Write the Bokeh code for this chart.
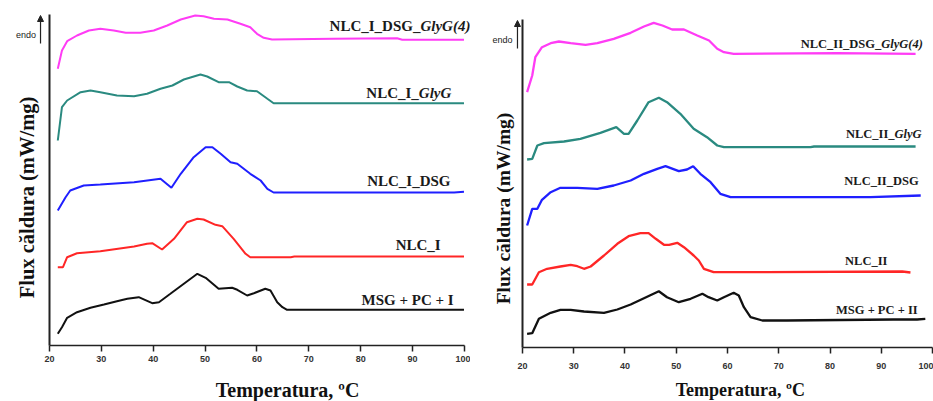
import math
from bokeh.plotting import figure
from bokeh.layouts import row
from bokeh.models import Label, Arrow, NormalHead, FixedTicker
from bokeh.embed import file_html
from bokeh.resources import INLINE

# ---------------- data (temperature in °C, heat flow in arbitrary offset units) ----------------
# Left panel (series I)
L_mag_T = [21.6, 22.4, 23.4, 25.3, 27.6, 29.8, 32.4, 34.7, 37.5, 40.1, 42.7, 45.3, 48.1, 49.7, 51.7, 54.3, 56.8, 58.7, 60.0, 61.3, 62.9, 74.7, 87.0, 88.0, 99.9]
L_mag_Y = [276.7, 295, 304.3, 310, 315, 316.7, 315, 312.7, 312.7, 315, 320, 326, 330, 329.3, 326.7, 326, 321.7, 318.3, 311.7, 307.7, 306, 306.7, 307.3, 305.7, 305.7]
L_teal_T = [21.6, 22.4, 23.4, 26.0, 27.9, 29.8, 33.0, 36.3, 38.8, 41.4, 43.7, 45.9, 49.1, 50.4, 52.6, 54.6, 56.2, 58.1, 60.0, 62.0, 63.2, 99.9]
L_teal_Y = [205, 238.3, 245, 253.3, 255, 253.3, 250, 249.3, 251.7, 256.7, 260, 266, 271, 269, 263.3, 263.3, 259, 255, 254.3, 246.7, 242.3, 242.3]
L_blue_T = [21.6, 23.1, 24.0, 26.6, 29.8, 36.3, 41.4, 43.5, 45.3, 47.8, 50.1, 51.4, 53.0, 54.9, 56.2, 58.7, 60.7, 62.0, 63.2, 98.0, 99.9]
L_blue_Y = [135, 148.3, 155, 160, 161, 163.3, 166.7, 157.7, 171.7, 188.3, 198.3, 198.3, 191.7, 183.3, 181.7, 171.7, 165, 156.7, 153, 153, 153.7]
L_red_T = [21.6, 22.6, 23.4, 25.3, 29.8, 36.3, 38.8, 39.8, 41.7, 44.0, 46.5, 48.5, 49.7, 52.0, 53.3, 55.5, 57.8, 58.7, 66.5, 67.2, 99.9]
L_red_Y = [78.3, 78.3, 88.3, 92.3, 94.3, 99, 101.7, 102.3, 96, 106.7, 123.3, 126.7, 126, 120.7, 119.3, 106.7, 91.7, 88.3, 88.3, 89, 89]
L_blk_T = [21.6, 22.4, 23.4, 25.3, 27.9, 30.5, 33.0, 35.0, 37.2, 39.8, 41.1, 43.3, 45.9, 48.5, 50.1, 52.6, 55.2, 56.2, 58.1, 59.4, 61.6, 62.6, 63.9, 64.9, 65.8, 99.9]
L_blk_Y = [11.7, 18.3, 27.7, 33.3, 37.7, 41, 44.3, 46.7, 48.3, 42.3, 43.3, 51.7, 61.7, 71.7, 67.7, 56.7, 57.7, 55.7, 50, 52.3, 56.7, 55, 43.3, 38.3, 35.7, 35.7]

# Right panel (series II)
R_mag_T = [20.9, 21.9, 22.5, 23.8, 25.5, 27.1, 29.4, 32.3, 34.6, 37.8, 41.1, 43.7, 45.6, 47.3, 49.2, 51.5, 54.1, 56.4, 58.0, 59.3, 61.2, 81.4, 96.7]
R_mag_Y = [255.3, 272, 290.3, 300.3, 304.3, 306, 304.3, 302.7, 304.3, 308.7, 314.7, 321, 324.7, 322, 318, 318, 312, 307, 298.7, 295.3, 293.7, 294.3, 293.7]
R_teal_T = [20.9, 21.9, 22.9, 24.2, 28.1, 31.3, 35.2, 38.3, 39.8, 40.7, 42.4, 44.6, 46.6, 48.2, 50.8, 53.4, 56.0, 58.0, 59.3, 76.2, 76.9, 96.7]
R_teal_Y = [188, 188.7, 202, 204.3, 206, 208.7, 214.7, 220.3, 213.7, 213.7, 227, 245.3, 249.7, 245.3, 233.7, 218.7, 210.3, 202, 200.3, 200.3, 201, 201]
R_blue_T = [20.9, 21.9, 22.9, 23.8, 25.5, 27.4, 30.7, 34.6, 37.8, 41.1, 43.7, 46.3, 47.9, 50.5, 52.1, 53.3, 54.7, 56.7, 58.6, 60.6, 87.9, 97.7]
R_blue_Y = [122, 138.7, 138.7, 147.7, 155.3, 159.7, 159.7, 158.7, 162, 167, 173.7, 178.7, 181.3, 176.3, 178, 181.3, 173.7, 165.3, 153.7, 150.3, 150.3, 152]
R_red_T = [20.9, 21.9, 23.2, 24.8, 27.4, 29.4, 30.7, 32.0, 33.3, 35.9, 38.5, 40.7, 43.0, 44.6, 46.0, 47.6, 48.6, 50.2, 51.5, 53.4, 54.4, 55.4, 57.3, 67.8, 94.1, 95.7]
R_red_Y = [63, 63, 75.3, 78.7, 81, 82.7, 81.3, 78.7, 81, 92, 103.7, 111.3, 114.3, 114.3, 108.7, 102.7, 102.7, 104.7, 100.3, 92, 87, 78.7, 75.3, 75.3, 76, 75]
R_blk_T = [20.9, 21.9, 23.2, 25.5, 27.4, 29.4, 32.0, 35.9, 38.5, 41.1, 43.7, 46.6, 48.2, 50.5, 52.8, 55.1, 56.3, 58.0, 59.3, 61.2, 62.2, 63.2, 64.5, 66.8, 71.6, 92.4, 97.0, 98.6]
R_blk_Y = [13.7, 14.3, 28.7, 34.7, 37.7, 37.7, 36, 34.7, 38, 43, 49.3, 56.3, 50.3, 45.3, 48.7, 53.7, 50.3, 47, 50.3, 54.7, 52, 40.3, 30.3, 27, 27, 28, 28, 28.7]

x_ticks = [20, 30, 40, 50, 60, 70, 80, 90, 100]
x_title = "Temperatura, ºC"
y_title = "Flux căldura (mW/mg)"

MAG = "#ff3cf5"
TEAL = "#2a8a80"
BLUE = "#1f1fff"
RED = "#ff2626"
BLK = "#111111"

SERIF = "Liberation Serif"
SANS = "Liberation Sans"


def make_panel(width, height, xr, yr, ytop, tick_stand):
    p = figure(width=width, height=height, x_range=xr, y_range=yr,
               output_backend="svg", toolbar_location=None, min_border=0)
    p.outline_line_color = None
    p.grid.visible = False
    # x axis, drawn at heat-flow 0 and limited to 20..100 °C
    xa = p.xaxis[0]
    xa.fixed_location = 0
    xa.bounds = (20, 100)
    xa.ticker = FixedTicker(ticks=x_ticks)
    xa.minor_tick_line_color = None
    xa.major_tick_in = 0
    xa.major_tick_out = 6
    xa.major_tick_line_color = "#222222"
    xa.major_tick_line_width = 1.5
    xa.axis_line_color = "#222222"
    xa.axis_line_width = 1.5
    xa.major_label_text_font = SANS
    xa.major_label_text_font_style = "bold"
    xa.major_label_text_font_size = "9px"
    xa.major_label_text_color = "#333333"
    xa.major_label_standoff = tick_stand
    # y axis at 20 °C, no ticks
    ya = p.yaxis[0]
    ya.fixed_location = 20
    ya.bounds = (0, ytop)
    ya.ticker = FixedTicker(ticks=[])
    ya.minor_tick_line_color = None
    ya.major_tick_in = 0
    ya.major_tick_out = 0
    ya.major_label_text_font_size = "0px"
    ya.axis_line_color = "#222222"
    ya.axis_line_width = 2
    return p


def lbl(p, x, y, text, size, align="right", italic=False):
    p.add_layout(Label(x=x, y=y, text=text, text_font=SERIF,
                       text_font_style="bold italic" if italic else "bold",
                       text_font_size=size, text_align=align,
                       text_baseline="middle", text_color="#1a1a1a"))


def titles(p, xt, yt, xsize, ysize):
    p.add_layout(Label(x=xt[0], y=xt[1], text=x_title, text_font=SERIF, text_font_style="bold",
                       text_font_size=xsize, text_align="center", text_baseline="middle",
                       text_color="#111111"))
    p.add_layout(Label(x=yt[0], y=yt[1], text=y_title, text_font=SERIF, text_font_style="bold",
                       text_font_size=ysize, text_align="center", text_baseline="middle",
                       angle=math.pi / 2, text_color="#111111"))


def endo(p, x_text, y_text, x_arrow, y0, y1):
    p.add_layout(Label(x=x_text, y=y_text, text="endo", text_font=SANS, text_font_size="9px",
                       text_align="right", text_baseline="middle", text_color="#222222"))
    p.add_layout(Arrow(x_start=x_arrow, y_start=y0, x_end=x_arrow, y_end=y1, line_width=1.2,
                       line_color="#222222",
                       end=NormalHead(size=6, fill_color="#222222", line_color="#222222")))


# ---------------- left panel ----------------
p1 = make_panel(470, 401, (10.554, 101.157), (-56, 345), 331, 4)
for T, Y, c in [(L_mag_T, L_mag_Y, MAG), (L_teal_T, L_teal_Y, TEAL), (L_blue_T, L_blue_Y, BLUE),
                (L_red_T, L_red_Y, RED), (L_blk_T, L_blk_Y, BLK)]:
    p1.line(T, Y, line_color=c, line_width=2)

lbl(p1, 91.5, 320, "NLC_I_DSG_", "15px")
lbl(p1, 91.5, 320, "GlyG(4)", "15px", align="left", italic=True)
lbl(p1, 91.2, 253, "NLC_I_", "15px")
lbl(p1, 91.2, 253, "GlyG", "15px", align="left", italic=True)
lbl(p1, 97.3, 165, "NLC_I_DSG", "15px")
lbl(p1, 95.4, 101, "NLC_I", "15px")
lbl(p1, 97.9, 46, "MSG + PC + I", "15px")
titles(p1, (65.9, -44), (15.57, 148), "20px", "20.5px")
endo(p1, 17.4, 311, 18.27, 302, 330)

# ---------------- right panel ----------------
p2 = make_panel(463, 401, (9.854, 100.195), (-54, 347), 328, 9)
for T, Y, c in [(R_mag_T, R_mag_Y, MAG), (R_teal_T, R_teal_Y, TEAL), (R_blue_T, R_blue_Y, BLUE),
                (R_red_T, R_red_Y, RED), (R_blk_T, R_blk_Y, BLK)]:
    p2.line(T, Y, line_color=c, line_width=2.3)

lbl(p2, 90.0, 304, "NLC_II_DSG_", "12.5px")
lbl(p2, 90.0, 304, "GlyG(4)", "12.5px", align="left", italic=True)
lbl(p2, 92.6, 214, "NLC_II_", "12.5px")
lbl(p2, 92.6, 214, "GlyG", "12.5px", align="left", italic=True)
lbl(p2, 97.3, 167, "NLC_II_DSG", "12.5px")
lbl(p2, 91.2, 87, "NLC_II", "12.5px")
lbl(p2, 97.1, 38, "MSG + PC + II", "12.5px")
titles(p2, (62.5, -42), (16.29, 139), "18px", "19.5px")
endo(p2, 18.05, 308, 19.02, 299, 327)

layout = row(p1, p2)
open("out.html", "w").write(file_html(layout, INLINE))
